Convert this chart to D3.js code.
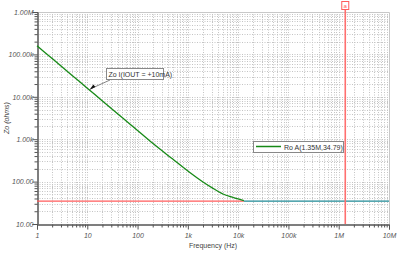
<!DOCTYPE html>
<html>
<head>
<meta charset="utf-8">
<script src="https://cdn.jsdelivr.net/npm/d3@7"></script>
<style>
  body { margin: 0; background: #fff; }
  text { font-family: "Liberation Sans", Arial, sans-serif; }
  .tick text { font-style: italic; fill: #555; font-size: 7px; }
</style>
</head>
<body>
<div id="chart"></div>
<script>
// data
var freq = [1, 2, 5, 10, 20, 50, 100, 200, 500, 1000, 2000, 3000, 5000, 7000, 10000, 13000];
var zo   = [160000, 80000, 32000, 16000, 8000, 3200, 1600, 800, 340, 178, 98, 72, 51, 44, 39, 35.5];
var flatFreq = [13000, 10000000];
var flatZo = [34.79, 34.79];
var xTicks = [1, 10, 100, 1000, 10000, 100000, 1000000, 10000000];
var xTickLabels = ["1", "10", "100", "1k", "10k", "100k", "1M", "10M"];
var yTicks = [10, 100, 1000, 10000, 100000, 1000000];
var yTickLabels = ["10.00", "100.00", "1.00k", "10.00k", "100.00k", "1.00M"];
var cursorX = 1350000, cursorY = 34.79;
var legendText = "Ro A(1.35M,34.79)";
var traceLabel = "Zo I(IOUT = +10mA)";

const W = 400, H = 253;
const pLeft = 37, pRight = 389, pTop = 12, pBottom = 224;
const cursorColor = "#ff5c5c";

var svg = d3.select("#chart").append("svg").attr("width", W).attr("height", H);

var x = d3.scaleLog().domain([1, 1e7]).range([pLeft, pRight]);
var y = d3.scaleLog().domain([10, 1e6]).range([pBottom, pTop]);

// minor tick positions (2..9 in each decade)
var xMinor = [], yMinor = [];
xTicks.slice(0, -1).forEach(function(t) { for (var k = 2; k < 10; k++) xMinor.push(t * k); });
yTicks.slice(0, -1).forEach(function(t) { for (var k = 2; k < 10; k++) yMinor.push(t * k); });

// dotted grid
var grid = svg.append("g").attr("stroke", "#c4c4c4").attr("stroke-dasharray", "1,1.5").attr("stroke-width", 1);
grid.selectAll(".vg").data(xMinor.concat(xTicks.slice(1, -1))).enter().append("line")
  .attr("x1", d => Math.round(x(d)) + 0.5).attr("x2", d => Math.round(x(d)) + 0.5)
  .attr("y1", pTop).attr("y2", pBottom);
grid.selectAll(".hg").data(yMinor.concat(yTicks.slice(1, -1))).enter().append("line")
  .attr("y1", d => Math.round(y(d)) + 0.5).attr("y2", d => Math.round(y(d)) + 0.5)
  .attr("x1", pLeft).attr("x2", pRight);

// plot frame (top/right)
svg.append("path")
  .attr("d", "M" + pLeft + "," + (pTop + 0.5) + "H" + (pRight + 0.5) + "V" + pBottom)
  .attr("fill", "none").attr("stroke", "#c8c8c8");

// axes
var yAxis = svg.append("g").attr("transform", "translate(" + (pLeft + 0.5) + ",0)")
  .call(d3.axisLeft(y).tickValues(yTicks).tickSize(5).tickFormat((d, i) => yTickLabels[i]));
svg.append("g").attr("transform", "translate(" + (pLeft + 0.5) + ",0)")
  .call(d3.axisLeft(y).tickValues(yMinor).tickSize(3).tickFormat(""));
var xAxis = svg.append("g").attr("transform", "translate(0," + (pBottom + 0.5) + ")")
  .call(d3.axisBottom(x).tickValues(xTicks).tickSize(5).tickFormat((d, i) => xTickLabels[i]));
svg.append("g").attr("transform", "translate(0," + (pBottom + 0.5) + ")")
  .call(d3.axisBottom(x).tickValues(xMinor).tickSize(3).tickFormat(""));
svg.selectAll(".domain").attr("stroke", "#555");
svg.selectAll(".tick line").attr("stroke", "#555");
yAxis.selectAll(".tick text").attr("x", -4);
xAxis.selectAll(".tick text").attr("y", 9);

// axis titles
svg.append("text").attr("x", 213).attr("y", 248).attr("text-anchor", "middle")
  .attr("font-size", 7).attr("fill", "#444").text("Frequency (Hz)");
svg.append("text").attr("transform", "translate(9,118) rotate(-90)").attr("text-anchor", "middle")
  .attr("font-size", 7).attr("fill", "#444").attr("font-style", "italic").text("Zo (ohms)");

// horizontal cursor line
svg.append("line").attr("x1", pLeft).attr("x2", x(flatFreq[0]))
  .attr("y1", y(cursorY)).attr("y2", y(cursorY)).attr("stroke", cursorColor).attr("stroke-width", 1.2);

// trace
var line = d3.line().curve(d3.curveMonotoneX).x(d => x(d[0])).y(d => y(d[1]));
svg.append("path").datum(freq.map((f, i) => [f, zo[i]]))
  .attr("d", line).attr("fill", "none").attr("stroke", "#178a17").attr("stroke-width", 1.3);
svg.append("path").datum(flatFreq.map((f, i) => [f, flatZo[i]]))
  .attr("d", line).attr("fill", "none").attr("stroke", "#1f8a96").attr("stroke-width", 1.3);

// vertical cursor line and marker
var cx = x(cursorX);
svg.append("line").attr("x1", cx).attr("x2", cx).attr("y1", 9.5).attr("y2", pBottom)
  .attr("stroke", "#ff7070").attr("stroke-width", 1.6);
svg.append("rect").attr("x", cx - 3.5).attr("y", 1.5).attr("width", 7).attr("height", 8)
  .attr("fill", "#fff").attr("stroke", cursorColor);
svg.append("text").attr("x", cx).attr("y", 8).attr("text-anchor", "middle")
  .attr("font-size", 6).attr("fill", cursorColor).text("a");

// trace annotation with leader arrow
var ax = x(11), ay = y(14500);
svg.append("line").attr("x1", 110).attr("y1", 80).attr("x2", ax + 2).attr("y2", ay - 1.5)
  .attr("stroke", "#666").attr("stroke-width", 0.8);
svg.append("path")
  .attr("d", "M" + ax + "," + ay + "l4,-5.5l2,2.5z").attr("fill", "#111");
svg.append("rect").attr("x", 106.5).attr("y", 68.5).attr("width", 57).attr("height", 11)
  .attr("fill", "#fff").attr("stroke", "#888");
svg.append("text").attr("x", 108.5).attr("y", 77).attr("font-size", 7).attr("fill", "#333").text(traceLabel);

// cursor legend box
svg.append("rect").attr("x", 253.5).attr("y", 141.5).attr("width", 90).attr("height", 11)
  .attr("fill", "#fff").attr("stroke", "#888");
svg.append("line").attr("x1", 256).attr("x2", 281).attr("y1", 146.5).attr("y2", 146.5)
  .attr("stroke", "#178a17").attr("stroke-width", 1.5);
svg.append("text").attr("x", 284).attr("y", 150).attr("font-size", 7).attr("fill", "#333").text(legendText);
</script>
</body>
</html>
